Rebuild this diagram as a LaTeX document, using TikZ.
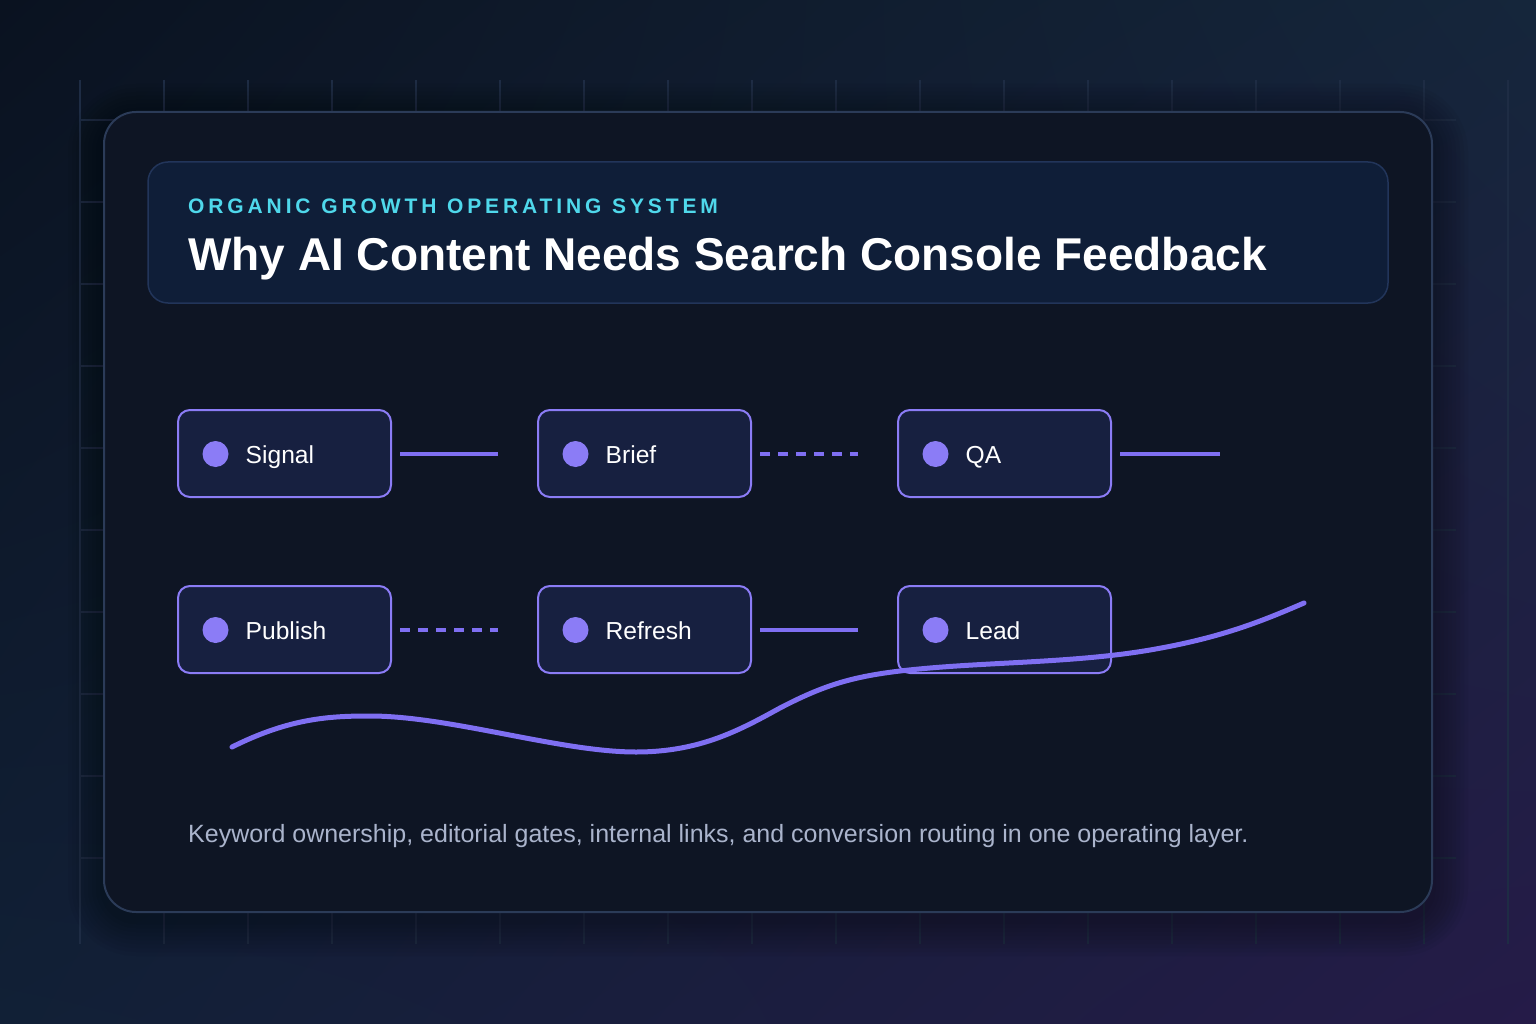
\documentclass[tikz,border=0pt]{standalone}
\usepackage{fontspec}
\setmainfont{Liberation Sans}
\newfontfamily\kickfont{Liberation Sans}[LetterSpace=18.5, WordSpace=1.1]
\usetikzlibrary{calc,shadings}
\definecolor{bgTL}{HTML}{0A1220}
\definecolor{bgTR}{HTML}{15263B}
\definecolor{bgBL}{HTML}{112036}
\definecolor{bgBR}{HTML}{251B48}
\definecolor{gridc}{HTML}{1E2C44}
\definecolor{cardfill}{HTML}{0E1524}
\definecolor{cardline}{HTML}{2B3B58}
\definecolor{headfill}{HTML}{0F1E38}
\definecolor{headline}{HTML}{22355A}
\definecolor{cyanc}{HTML}{4FD8EB}
\definecolor{nodefill}{HTML}{172040}
\definecolor{purp}{HTML}{8B7CF6}
\definecolor{linec}{HTML}{7F6FF2}
\definecolor{foot}{HTML}{AAB4CC}
\tikzset{
  gridline/.style={draw=gridc, line width=1.5pt},
  stepbox/.style={draw=purp, fill=nodefill, line width=2pt, rounded corners=12pt, minimum width=213pt, minimum height=87pt, inner sep=0pt},
  lbl/.style={anchor=base west, text=white, font=\fontsize{24.6}{28}\selectfont, inner sep=0pt},
  conn/.style={draw=linec, line width=4pt},
  dconn/.style={draw=linec, line width=4pt, dash pattern=on 10pt off 8pt},
}
\begin{document}
\begin{tikzpicture}[x=1pt,y=-1pt]
\useasboundingbox (0,0) rectangle (1536,1024);
\shade[upper left=bgTL, upper right=bgTR, lower left=bgBL, lower right=bgBR] (0,0) rectangle (1536,1024);
% grid
\foreach \k in {0,...,17} \draw[gridline] ({80+84*\k},80) -- ({80+84*\k},944);
\foreach \k in {0,...,9} \draw[gridline] (80,{120+82*\k}) -- (1456,{120+82*\k});
% shadow
\foreach \e in {4,8,...,36} \fill[black, opacity=0.035, rounded corners={32+\e}] ({104-\e},{112-\e+8}) rectangle ({1432+\e},{912+\e+8});
% card
\draw[fill=cardfill, draw=cardline, line width=2pt, rounded corners=32pt] (104,112) rectangle (1432,912);
% header
\draw[fill=headfill, draw=headline, line width=1.5pt, rounded corners=20pt] (148,162) rectangle (1388,303);
\node[anchor=base west, inner sep=0pt, text=cyanc, font=\kickfont\fontsize{21}{24}\selectfont\bfseries] (kicker) at (188,214) {ORGANIC GROWTH OPERATING SYSTEM};
\node[anchor=base west, inner sep=0pt, text=white, font=\fontsize{46}{52}\selectfont\bfseries] (title) at (188,271) {Why AI Content Needs Search Console Feedback};
% nodes
\node[stepbox] (signal) at (284.5,453.5) {};
\node[stepbox] (brief) at (644.5,453.5) {};
\node[stepbox] (qa) at (1004.5,453.5) {};
\node[stepbox] (publish) at (284.5,629.5) {};
\node[stepbox] (refresh) at (644.5,629.5) {};
\node[stepbox] (lead) at (1004.5,629.5) {};
\foreach \n/\t in {signal/Signal, brief/Brief, qa/QA, publish/Publish, refresh/Refresh, lead/Lead}{
  \fill[purp] ($(\n.west)+(38.5,0.5)$) circle (13);
  \node[lbl] (\n-l) at ($(\n.west)+(68.5,9.5)$) {\t};
}
% connectors
\draw[conn] ($(signal.east)+(8,0)$) -- ($(brief.west)+(-39,0)$);
\draw[dconn] ($(brief.east)+(8,0)$) -- ($(qa.west)+(-39,0)$);
\coordinate (qaend) at ($(qa.east)+(108,0)$);
\draw[conn] ($(qa.east)+(8,0)$) -- (qaend);
\draw[dconn] ($(publish.east)+(8,0)$) -- ($(refresh.west)+(-39,0)$);
\draw[conn] ($(refresh.east)+(8,0)$) -- ($(lead.west)+(-39,0)$);
% curve
\draw[draw=linec, line width=5pt, line cap=round] (232,747) .. controls (290,718) and (330,716) .. (370,716) .. controls (450,716) and (560,752) .. (636,752) .. controls (700,752) and (740,730) .. (780,708) .. controls (830,682) and (860,674) .. (930,668) .. controls (1000,662) and (1080,662) .. (1150,650) .. controls (1220,638) and (1260,622) .. (1304,603);
% footer
\node[anchor=base west, inner sep=0pt, text=foot, font=\fontsize{25}{28}\selectfont] (footer) at (188,842) {Keyword ownership, editorial gates, internal links, and conversion routing in one operating layer.};
\end{tikzpicture}
\end{document}
